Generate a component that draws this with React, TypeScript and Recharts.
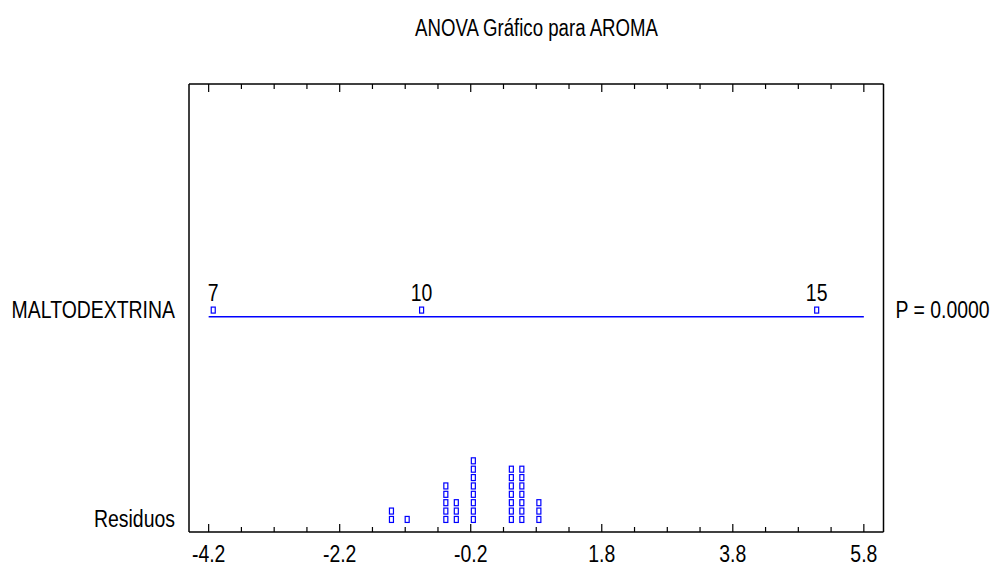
import {
  ScatterChart, Scatter, XAxis, YAxis,
} from 'recharts';

// no Arial Narrow here: squeeze Liberation Sans (Arial metrics) horizontally instead
const FONT = "'Liberation Sans', Arial, sans-serif";
const SQUEEZE = 0.81;
const BLUE = '#0000ff';

// factor levels and their effects (group mean - grand mean)
const LEVELS = ['7', '10', '15'];
const LEVEL_EFFECTS = [-4.13, -0.95, 5.08];

// residuals
const RESIDUALS = [
  -1.41, -1.41,
  -1.17,
  -0.58, -0.58, -0.58, -0.58, -0.58,
  -0.42, -0.42, -0.42,
  -0.16, -0.16, -0.16, -0.16, -0.16, -0.16, -0.16, -0.16,
  0.42, 0.42, 0.42, 0.42, 0.42, 0.42, 0.42,
  0.58, 0.58, 0.58, 0.58, 0.58, 0.58, 0.58,
  0.84, 0.84, 0.84,
];

const X_TICKS = [
  -4.2, -3.7, -3.2, -2.7, -2.2, -1.7, -1.2, -0.7, -0.2, 0.3, 0.8,
  1.3, 1.8, 2.3, 2.8, 3.3, 3.8, 4.3, 4.8, 5.3, 5.8,
];
const MAJOR_TICKS = [-4.2, -2.2, -0.2, 1.8, 3.8, 5.8];
const X_DOMAIN = [-4.5, 6.1];

const TITLE = 'ANOVA Gráfico para AROMA';
const ROW_LABELS = ['MALTODEXTRINA', 'Residuos'];
const P_LABEL = 'P = 0.0000';

// vertical rows: residual dots stack from row 0, factor sits at row 25
const FACTOR_ROW = 25;
const LINE_ROW = 24.2;
const Y_DOMAIN = [-1.5, 52];

const isMajor = (v: number) => MAJOR_TICKS.some((m) => Math.abs(m - v) < 1e-6);

function stackResiduals(values: number[]) {
  const seen: Record<string, number> = {};
  return values.map((v) => {
    const key = v.toFixed(2);
    const k = seen[key] ?? 0;
    seen[key] = k + 1;
    return { x: v, y: k };
  });
}

const residualData = stackResiduals(RESIDUALS);
const meanData = LEVELS.map((level, i) => ({ x: LEVEL_EFFECTS[i], y: FACTOR_ROW, level }));
const lineData = [
  { x: MAJOR_TICKS[0], y: LINE_ROW },
  { x: MAJOR_TICKS[MAJOR_TICKS.length - 1], y: LINE_ROW },
];

const NarrowText = ({ x, y, anchor = 'middle', size = 24, children }: any) => (
  <text
    transform={`translate(${x},${y}) scale(${SQUEEZE},1)`}
    textAnchor={anchor} fontFamily={FONT} fontSize={size} fill="#000"
  >
    {children}
  </text>
);

const Square = ({ cx, cy }: any) => (
  <rect x={cx - 2} y={cy - 3} width={4} height={6} fill="#fff" stroke={BLUE} strokeWidth={1.2} />
);

const MeanMark = ({ cx, cy, payload }: any) => (
  <g>
    <rect x={cx - 2} y={cy - 3} width={4} height={6} fill="#fff" stroke={BLUE} strokeWidth={1.2} />
    <NarrowText x={cx} y={cy - 9}>{payload.level}</NarrowText>
  </g>
);

const BottomTick = ({ x, y, payload }: any) => {
  const major = isMajor(payload.value);
  return (
    <g>
      <line x1={x} x2={x} y1={y} y2={y - (major ? 8 : 5)} stroke="#000" strokeWidth={1.2} />
      {major && <NarrowText x={x} y={y + 30}>{payload.value.toFixed(1)}</NarrowText>}
    </g>
  );
};

const TopTick = ({ x, y, payload }: any) => (
  <line x1={x} x2={x} y1={y} y2={y + (isMajor(payload.value) ? 8 : 5)} stroke="#000" strokeWidth={1.2} />
);

const LeftTick = ({ x, y, payload }: any) => (
  <NarrowText x={x - 14} y={y + 8} anchor="end">
    {payload.value === FACTOR_ROW ? ROW_LABELS[0] : ROW_LABELS[1]}
  </NarrowText>
);

const RightTick = ({ x, y }: any) => (
  <NarrowText x={x + 12} y={y + 8} anchor="start">{P_LABEL}</NarrowText>
);

export default function App() {
  return (
    <div style={{ position: 'absolute', left: 0, top: 0, width: 993, height: 574, background: '#fff' }}>
      <div
        style={{
          position: 'absolute', left: 189, top: 15, width: 695,
          textAlign: 'center', fontFamily: FONT, fontSize: 23, lineHeight: '26px', color: '#000',
          transform: `scaleX(${SQUEEZE})`, transformOrigin: 'center',
        }}
      >
        {TITLE}
      </div>
      <ScatterChart width={993} height={574} margin={{ top: 74, right: 9, left: 9, bottom: 12 }}>
        <XAxis
          xAxisId="bottom" type="number" dataKey="x" orientation="bottom"
          domain={X_DOMAIN} ticks={X_TICKS} interval={0} allowDataOverflow
          height={30} tickSize={0} tickMargin={0}
          axisLine={{ stroke: '#000', strokeWidth: 1.5 }} tickLine={false} tick={<BottomTick />}
        />
        <XAxis
          xAxisId="top" type="number" dataKey="x" orientation="top"
          domain={X_DOMAIN} ticks={X_TICKS} interval={0} allowDataOverflow
          height={10} tickSize={0} tickMargin={0}
          axisLine={{ stroke: '#000', strokeWidth: 1.5 }} tickLine={false} tick={<TopTick />}
        />
        <YAxis
          yAxisId="left" type="number" dataKey="y" orientation="left"
          domain={Y_DOMAIN} ticks={[0, FACTOR_ROW]} interval={0} allowDataOverflow
          width={180} tickSize={0} tickMargin={0}
          axisLine={{ stroke: '#000', strokeWidth: 1.5 }} tickLine={false} tick={<LeftTick />}
        />
        <YAxis
          yAxisId="right" type="number" dataKey="y" orientation="right"
          domain={Y_DOMAIN} ticks={[FACTOR_ROW]} interval={0} allowDataOverflow
          width={100.5} tickSize={0} tickMargin={0}
          axisLine={{ stroke: '#000', strokeWidth: 1.5 }} tickLine={false} tick={<RightTick />}
        />
        <Scatter
          xAxisId="bottom" yAxisId="left" data={lineData}
          line={{ stroke: BLUE, strokeWidth: 1.5 }} shape={() => <g />}
          isAnimationActive={false}
        />
        <Scatter
          xAxisId="bottom" yAxisId="left" data={meanData}
          shape={<MeanMark />} isAnimationActive={false}
        />
        <Scatter
          xAxisId="bottom" yAxisId="left" data={residualData}
          shape={<Square />} isAnimationActive={false}
        />
      </ScatterChart>
    </div>
  );
}
